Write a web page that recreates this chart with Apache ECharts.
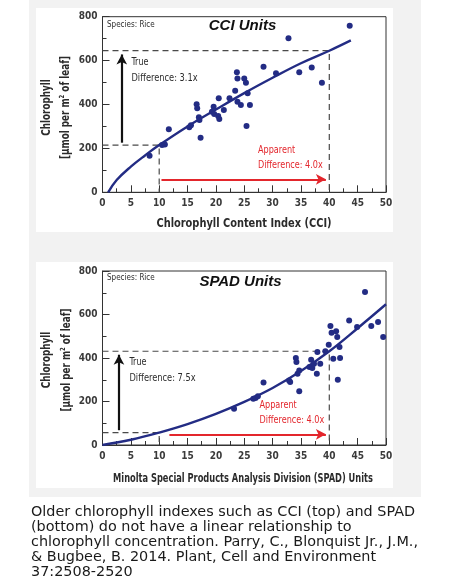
<!DOCTYPE html>
<html><head><meta charset="utf-8">
<script src="https://cdn.jsdelivr.net/npm/echarts@6/dist/echarts.min.js"></script>
<style>
html,body{margin:0;padding:0;background:#fff}
#wrap{position:relative;width:452px;height:584px;overflow:hidden}
.bg{position:absolute}
#c{position:absolute;left:0;top:0;width:452px;height:584px}
</style>
</head><body>
<div id="wrap">
<div class="bg" style="left:29px;top:0;width:392px;height:497px;background:#f2f2f2"></div>
<div class="bg" style="left:36px;top:8px;width:357px;height:224px;background:#fff"></div>
<div class="bg" style="left:36px;top:262px;width:357px;height:226px;background:#fff"></div>
<div id="c"></div>
</div>
<script>
// ---------- data ----------
const cciPoints = [
  [8.3,167],[10.5,215],[11.0,218],[11.7,287],[15.3,296],[15.6,306],[16.6,401],[16.7,383],
  [17.0,342],[17.1,329],[17.3,249],[19.3,367],[19.6,390],[19.7,357],[20.4,348],[20.5,428],
  [20.6,334],[21.4,375],[22.4,428],[23.4,463],[23.7,547],[23.8,519],[23.8,413],[24.4,398],
  [25.0,519],[25.3,499],[25.4,302],[25.6,451],[26.0,398],[28.4,572],[30.6,542],[32.8,702],
  [34.7,547],[36.9,568],[38.7,499],[43.6,759]
];
const cciCurve = [
  [1,0],[2.5,56],[5,117],[7.5,168],[10,215],[15,300],[20,377],[25,452],[30,522],[35,588],[40,645],[43.8,692]
];
const cciGuideHigh = [[0,645],[40,645],[40,0]];
const cciGuideLow = [[0,215],[10,215],[10,0]];
const cciTrueArrow = [[3.4,226],[3.4,628]];
const cciApparentArrow = [[10.4,59],[39.4,59]];

const spadPoints = [
  [23.2,167],[26.6,213],[27.0,216],[27.4,224],[28.4,287],[32.9,297],[33.1,290],[34.1,400],
  [34.2,382],[34.4,328],[34.7,343],[34.7,247],[36.5,359],[36.8,392],[37.0,354],[37.3,374],
  [37.8,328],[37.9,428],[38.4,374],[39.3,431],[39.9,461],[40.2,547],[40.4,516],[40.7,397],
  [41.2,523],[41.4,497],[41.5,300],[41.8,451],[41.9,400],[43.5,572],[44.9,543],[46.3,703],
  [47.4,547],[48.6,566],[49.5,497]
];
const spadCurve = [
  [0,0],[5,24],[10,57],[15,96],[20,143],[25,198],[30,262],[35,340],[40,431],[45,537],[50,647]
];
const spadGuideHigh = [[0,431],[40,431],[40,0]];
const spadGuideLow = [[0,57],[10,57],[10,0]];
const spadTrueArrow = [[2.9,68],[2.9,415]];
const spadApparentArrow = [[11.8,49],[39.4,49]];

// ---------- styles ----------
const NARROW = "'Liberation Sans Narrow','DejaVu Sans Condensed','Arial Narrow',sans-serif";
const NAVY = '#232c84';
const RED = '#e3262c';
const GUIDE = '#4a4a4a';

function xAxisFor(grid) {
  return {
    type:'value', gridIndex:grid, min:0, max:50, interval:5,
    axisLine:{show:true, onZero:false, lineStyle:{color:'#333', width:1}},
    axisTick:{show:true, inside:true, length:7, lineStyle:{color:'#333'}},
    minorTick:{show:true, splitNumber:2, length:4, lineStyle:{color:'#333'}},
    axisLabel:{fontFamily:NARROW, fontWeight:'bold', fontSize:10, color:'#3a3a3a', margin:6},
    splitLine:{show:false}
  };
}
function yAxisFor(grid) {
  return {
    type:'value', gridIndex:grid, min:0, max:800, interval:200,
    axisLine:{show:true, onZero:false, lineStyle:{color:'#333', width:1}},
    axisTick:{show:true, inside:true, length:7, lineStyle:{color:'#333'}},
    minorTick:{show:true, splitNumber:2, length:4, lineStyle:{color:'#333'}},
    axisLabel:{fontFamily:NARROW, fontWeight:'bold', fontSize:10, color:'#3a3a3a', margin:5},
    splitLine:{show:false}
  };
}
function guide(data, xi) {
  return {type:'line', xAxisIndex:xi, yAxisIndex:xi, data:data, symbol:'none', silent:true, z:3,
    lineStyle:{color:GUIDE, width:1.2, type:[6,4]}};
}
function arrow(data, xi, color) {
  return {type:'line', xAxisIndex:xi, yAxisIndex:xi, data:[], silent:true, z:4,
    markLine:{silent:true, symbol:['none','arrow'], symbolSize:[8,10], label:{show:false}, animation:false,
      lineStyle:{color:color, width:2.2, type:'solid'},
      emphasis:{disabled:true},
      data:[[{coord:data[0]},{coord:data[1]}]]}};
}
function pts(data, xi) {
  return {type:'scatter', xAxisIndex:xi, yAxisIndex:xi, data:data, symbolSize:6, z:5,
    itemStyle:{color:NAVY, opacity:1}};
}
function curve(data, xi) {
  return {type:'line', xAxisIndex:xi, yAxisIndex:xi, data:data, smooth:0.4, symbol:'none', z:4,
    lineStyle:{color:NAVY, width:2.4}};
}

function txt(x, y, text, opts, sx, rot) {
  return {type:'text', x:x, y:y, scaleX:sx || 1, rotation:rot || 0, silent:true, z:10,
    style:Object.assign({text:text, fontFamily:NARROW, fontSize:10, fill:'#2b2b2b',
      verticalAlign:'middle'}, opts || {})};
}
const nameStyle = {fontWeight:'bold', fontSize:11.5, fill:'#2b2b2b', align:'center'};
const yName2Style = Object.assign({}, nameStyle, {rich:{sup:{fontFamily:NARROW, fontWeight:'bold', fontSize:7, fill:'#2b2b2b', verticalAlign:'top', padding:[0,0,7,0]}}});
const TITLE = "'Liberation Sans','DejaVu Sans',sans-serif";
const R = Math.PI/2;

const chart = echarts.init(document.getElementById('c'), null, {renderer:'canvas'});
chart.setOption({
  animation:false,
  backgroundColor:'transparent',
  grid:[
    {left:102.5, top:16.7, width:283.5, height:175.6, show:true, borderColor:'#333', borderWidth:1, backgroundColor:'transparent'},
    {left:102.5, top:271, width:283.5, height:174, show:true, borderColor:'#333', borderWidth:1, backgroundColor:'transparent'}
  ],
  xAxis:[xAxisFor(0), xAxisFor(1)],
  yAxis:[yAxisFor(0), yAxisFor(1)],
  series:[
    guide(cciGuideHigh,0), guide(cciGuideLow,0),
    arrow(cciTrueArrow,0,'#111'), arrow(cciApparentArrow,0,RED),
    curve(cciCurve,0), pts(cciPoints,0),
    guide(spadGuideHigh,1), guide(spadGuideLow,1),
    arrow(spadTrueArrow,1,'#111'), arrow(spadApparentArrow,1,RED),
    curve(spadCurve,1), pts(spadPoints,1)
  ],
  graphic:[
    // axis names
    txt(244, 224, 'Chlorophyll Content Index (CCI)', nameStyle, 0.95),
    txt(243, 479, 'Minolta Special Products Analysis Division (SPAD) Units', nameStyle, 0.8),
    txt(47, 107.5, 'Chlorophyll', nameStyle, 0.85, R),
    txt(66, 107.5, '[µmol per m{sup|2} of leaf]', yName2Style, 0.85, R),
    txt(47, 360, 'Chlorophyll', nameStyle, 0.85, R),
    txt(67, 360, '[µmol per m{sup|2} of leaf]', yName2Style, 0.85, R),

    txt(107, 25, 'Species: Rice', {fontSize:8.5}, 0.94),
    txt(242.5, 25.5, 'CCI Units', {fontFamily:TITLE, fontWeight:'bold', fontStyle:'italic', fontSize:15, fill:'#111', align:'center'}),
    txt(131.5, 62.5, 'True', {fontSize:10}, 0.9),
    txt(131.5, 78.5, 'Difference: 3.1x', {fontSize:10}, 0.92),
    txt(258, 150, 'Apparent', {fontSize:10, fill:RED}, 0.9),
    txt(258, 165, 'Difference: 4.0x', {fontSize:10, fill:RED}, 0.9),

    txt(107, 278, 'Species: Rice', {fontSize:8.5}, 0.94),
    txt(240.5, 281.5, 'SPAD Units', {fontFamily:TITLE, fontWeight:'bold', fontStyle:'italic', fontSize:15, fill:'#111', align:'center'}),
    txt(129.5, 362, 'True', {fontSize:10}, 0.9),
    txt(129.5, 378, 'Difference: 7.5x', {fontSize:10}, 0.92),
    txt(259.5, 405.5, 'Apparent', {fontSize:10, fill:RED}, 0.9),
    txt(259.5, 420.5, 'Difference: 4.0x', {fontSize:10, fill:RED}, 0.9),

    {type:'text', left:31, top:505, silent:true, z:10,
      style:{text:'Older chlorophyll indexes such as CCI (top) and SPAD\n(bottom) do not have a linear relationship to\nchlorophyll concentration. Parry, C., Blonquist Jr., J.M.,\n& Bugbee, B. 2014. Plant, Cell and Environment\n37:2508-2520',
        fontFamily:"Verdana,'DejaVu Sans',sans-serif", fontSize:14.4, lineHeight:15, fill:'#1a1a1a'}}
  ]
});
</script>
</body></html>
